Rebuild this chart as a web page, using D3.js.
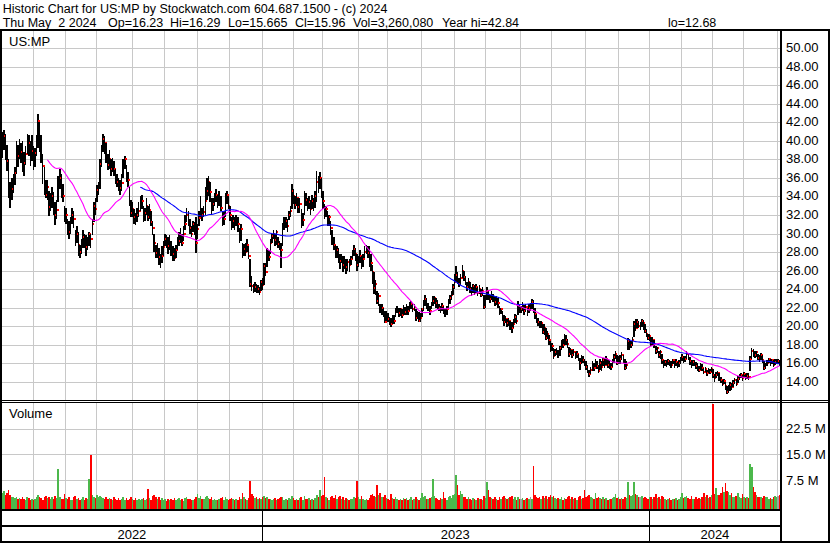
<!DOCTYPE html>
<html><head><meta charset="utf-8">
<script src="https://cdn.jsdelivr.net/npm/d3@7/dist/d3.min.js"></script>
<style>
html,body{margin:0;padding:0;background:#fff;}
svg{display:block;font-family:"Liberation Sans",Arial,sans-serif;}
text{white-space:pre;}
</style></head><body>
<svg id="chart" width="830" height="543"></svg>
<script>
// ---------------- data ----------------
const titleLine = "Historic Chart for US:MP by Stockwatch.com 604.687.1500 - (c) 2024";
const infoFields = ["Thu May  2 2024", "Op=16.23", "Hi=16.29", "Lo=15.665", "Cl=15.96", "Vol=3,260,080", "Year hi=42.84", "lo=12.68"];
const symbolLabel = "US:MP";
const volumeLabel = "Volume";
const yearLabels = ["2022", "2023", "2024"];
const yearStartIdx = [0, 168, 418];
const monthStartIdx = [20,41,61,84,105,126,147,168,188,207,230,249,271,292,312,335,355,377,398,418,439,459,479,501];
const priceTicks = [14,16,18,20,22,24,26,28,30,32,34,36,38,40,42,44,46,48,50];
const volTicks = [7.5, 15, 22.5];
const volTickLabels = ["7.5 M", "15.0 M", "22.5 M"];
const maShort = 30, maLong = 90;

const closes = [
39.6,40.5,39.3,37.8,35.0,34.2,34.8,35.3,36.5,39.0,
38.4,39.5,38.8,38.2,37.6,38.6,40.1,39.8,38.7,38.9,
37.5,38.7,39.5,42.1,40.0,38.5,37.3,35.6,34.2,35.0,
32.9,33.5,34.0,33.2,32.0,32.5,35.6,36.0,35.0,34.0,
31.5,32.0,31.0,30.2,31.2,32.0,31.6,29.5,30.0,28.8,
28.0,28.6,29.6,29.2,28.5,28.9,29.9,29.4,31.0,33.0,
32.6,34.7,35.0,37.5,39.2,40.2,39.8,38.5,37.4,38.0,
37.0,37.6,37.0,36.2,35.6,35.2,34.9,35.5,37.5,38.0,
36.2,35.8,33.5,32.2,32.6,31.8,31.3,32.0,32.4,33.1,
33.5,31.6,32.2,33.0,31.8,32.5,31.2,30.6,29.0,27.9,
28.3,27.5,27.0,27.6,28.5,29.4,29.0,28.6,29.1,28.4,
27.8,27.4,28.2,28.8,29.2,29.8,29.0,30.0,31.0,32.0,
31.4,30.6,30.0,31.0,30.2,29.0,30.5,31.7,32.5,32.0,
32.3,33.5,34.6,35.6,34.5,32.8,33.2,33.8,34.2,33.5,
33.9,32.8,31.1,31.6,33.8,34.2,33.0,32.0,30.9,31.4,
30.9,31.6,31.0,29.3,30.5,27.7,28.3,28.0,28.8,27.6,
24.5,24.3,23.8,24.2,23.9,24.0,23.7,24.8,24.4,26.5,
25.8,28.1,27.5,29.0,29.7,30.0,29.3,30.2,28.9,28.6,
28.2,30.8,31.0,31.3,30.8,32.0,32.4,34.6,34.0,33.1,
33.8,32.9,33.2,31.0,31.5,34.2,33.6,32.9,33.4,32.6,
33.5,33.0,34.0,35.6,35.0,36.0,34.5,33.5,31.9,32.6,
31.3,31.8,30.6,29.3,28.8,27.7,28.2,27.3,27.0,27.4,
26.6,27.1,26.4,26.9,26.6,27.2,27.8,28.3,27.8,26.6,
27.0,27.6,26.6,27.2,28.0,28.4,27.9,27.7,26.8,25.8,
24.1,24.6,22.7,23.2,21.6,22.0,21.5,20.5,21.2,20.8,
20.5,20.2,20.8,20.6,21.6,21.9,21.4,21.8,21.2,22.0,
21.5,22.0,21.6,22.1,22.4,21.8,22.1,20.9,21.3,20.6,
20.9,21.8,22.3,22.9,22.0,22.1,21.6,22.3,22.7,23.0,
22.5,22.2,22.0,21.7,22.2,21.6,21.4,21.8,22.6,23.0,
23.4,24.2,24.8,25.5,25.0,24.6,25.2,25.9,25.3,24.7,
24.2,24.8,24.0,23.8,24.3,23.8,24.2,23.6,24.0,23.4,
23.8,22.1,23.0,23.8,23.2,22.9,23.4,23.0,22.6,22.9,
22.5,21.4,21.8,21.0,20.5,20.8,20.3,20.6,20.0,19.8,
20.2,21.0,20.6,22.3,21.8,21.8,22.2,21.6,22.1,21.5,
22.0,22.0,22.6,21.9,21.3,20.7,20.4,20.0,20.3,19.4,
19.8,18.7,19.2,18.5,17.5,17.9,16.8,17.2,17.3,16.9,
17.6,18.2,18.0,18.8,18.5,18.1,17.0,17.4,16.9,17.2,
16.8,17.0,16.5,16.0,16.6,16.3,16.1,15.6,15.2,14.8,
15.3,15.9,15.5,16.1,15.7,15.2,16.0,15.6,16.3,15.8,
16.4,15.8,15.9,15.6,16.1,16.7,17.0,16.0,16.5,16.4,
16.9,16.2,15.5,15.8,18.4,17.8,18.0,18.5,20.2,19.8,
20.5,20.0,20.0,20.6,20.3,19.5,19.2,18.7,18.9,18.2,
18.5,17.8,17.3,17.6,16.9,17.2,16.3,15.8,16.1,15.9,
16.2,16.0,15.8,16.3,15.8,16.1,15.7,16.0,16.4,16.7,
16.3,16.5,17.0,16.6,16.2,15.8,16.1,16.0,15.7,15.6,
15.3,15.8,15.5,15.1,15.4,14.9,15.3,15.0,15.4,14.7,
14.4,14.7,14.9,14.4,14.2,13.8,14.1,13.5,12.9,13.2,
13.6,13.4,13.9,14.2,13.8,14.3,14.5,14.7,14.4,14.8,
14.4,14.6,14.5,16.5,17.3,17.0,16.9,17.2,16.6,16.5,
16.9,16.3,15.5,15.8,16.0,16.4,16.0,16.3,15.8,16.1,
16.2,16.2,15.96];

const highs = [
41.0,41.2,40.8,39.6,38.0,35.6,36.0,36.4,37.2,40.0,
39.6,40.2,39.8,40.0,38.8,39.4,40.8,40.6,40.0,40.6,
39.4,39.2,40.6,42.9,42.0,40.6,38.6,37.2,35.8,35.8,
34.6,34.4,35.0,34.5,33.4,33.6,36.2,37.0,36.4,35.4,
33.0,32.8,31.6,31.4,31.8,32.8,32.4,30.4,30.8,30.2,
28.8,29.4,30.4,30.0,29.8,29.6,30.2,30.0,31.6,33.4,
33.8,35.2,35.6,38.0,39.6,40.8,40.5,39.8,38.6,39.0,
38.0,38.2,37.8,37.0,36.4,36.0,35.8,36.4,38.0,38.4,
37.4,36.6,35.0,33.6,33.4,32.6,32.2,32.8,33.4,34.0,
34.2,33.0,32.8,33.8,33.0,33.2,32.4,31.4,30.0,28.8,
29.0,28.4,27.8,28.6,29.2,30.0,29.8,29.6,29.8,29.2,
28.6,28.4,28.8,29.6,30.2,30.6,30.0,30.8,32.0,32.8,
32.4,31.6,30.8,31.4,31.2,31.8,31.0,32.4,34.0,32.8,
33.0,35.0,36.0,36.2,35.6,33.8,33.8,34.4,34.8,34.2,
34.6,34.0,32.4,32.4,34.4,34.6,34.0,33.0,31.8,32.0,
31.8,32.0,31.8,30.6,31.0,29.0,28.9,29.0,29.4,28.6,
27.2,25.4,24.6,24.8,24.6,24.4,24.2,25.0,25.2,26.8,
26.8,28.4,28.2,29.4,30.0,30.4,30.0,30.4,29.6,29.2,
29.0,31.1,31.8,31.8,31.6,32.4,33.0,35.3,34.8,34.0,
34.4,33.8,33.8,32.6,32.2,34.6,34.4,33.8,34.0,33.6,
34.2,33.8,34.6,36.8,36.2,36.6,36.0,34.6,33.2,33.0,
32.4,32.0,31.4,30.4,29.6,28.8,28.6,28.4,27.8,27.8,
27.6,27.6,27.2,27.2,27.2,27.6,28.2,28.8,28.4,27.8,
27.6,28.2,27.6,27.8,28.6,28.8,28.6,28.6,27.8,26.6,
25.8,25.0,23.8,23.6,22.4,22.4,22.0,21.6,21.6,21.4,
21.0,20.9,21.2,21.2,22.0,22.2,22.0,22.0,21.8,22.3,
22.1,22.4,22.2,22.6,22.7,22.5,22.4,21.8,21.6,21.5,
21.4,22.0,22.8,23.4,23.0,22.5,22.2,22.6,23.2,23.3,
23.0,22.8,22.4,22.2,22.5,22.2,21.8,22.2,22.9,23.4,
23.8,24.6,25.6,26.5,25.8,25.2,25.6,26.6,26.0,25.4,
24.8,25.2,24.8,24.2,24.6,24.4,24.5,24.2,24.4,24.0,
24.2,23.4,23.4,24.2,23.8,23.4,23.8,23.5,23.2,23.3,
23.0,22.2,22.0,21.6,21.2,21.1,20.8,20.9,20.6,20.4,
20.8,21.3,21.2,22.7,22.4,22.2,22.6,22.3,22.4,22.0,
22.4,22.5,22.9,22.8,22.0,21.3,20.9,20.6,20.6,20.2,
20.2,19.8,19.5,19.0,18.4,18.2,17.6,17.5,17.6,17.4,
17.9,18.5,18.6,19.1,19.0,18.6,17.8,17.6,17.4,17.5,
17.2,17.3,17.0,16.6,16.9,16.8,16.5,16.2,15.8,15.3,
15.6,16.2,16.0,16.5,16.2,15.8,16.4,16.2,16.6,16.6,
16.8,16.5,16.3,16.0,16.4,17.0,17.3,16.9,16.8,16.9,
17.2,16.9,16.4,16.2,18.7,18.6,18.4,18.8,20.6,20.8,
20.8,20.6,20.4,20.8,20.7,20.2,19.7,19.2,19.2,18.8,
18.8,18.5,17.9,17.8,17.3,17.4,17.0,16.3,16.3,16.3,
16.4,16.3,16.2,16.5,16.2,16.4,16.1,16.3,16.7,17.0,
16.8,16.8,17.3,17.1,16.7,16.3,16.3,16.3,16.1,16.0,
15.7,16.0,15.9,15.5,15.6,15.3,15.5,15.4,15.6,15.4,
14.8,15.0,15.2,14.9,14.5,14.2,14.3,14.0,13.5,13.6,
14.0,13.9,14.2,14.4,14.3,14.6,14.8,14.9,14.7,15.0,
14.8,14.9,14.9,16.8,17.6,17.5,17.3,17.3,17.0,16.9,
17.1,16.9,16.2,16.0,16.3,16.6,16.5,16.5,16.3,16.4,
16.5,16.5,16.29];

const lows = [
38.2,39.0,37.9,36.8,33.8,32.8,33.6,34.4,35.2,36.4,
37.2,38.0,37.6,36.6,36.2,37.4,38.6,38.4,37.3,37.8,
36.9,37.2,38.4,39.2,38.8,37.6,35.4,34.2,33.8,33.6,
31.9,32.4,32.8,32.0,30.9,31.6,33.4,34.8,33.8,33.4,
31.2,31.0,29.8,29.4,30.0,31.0,30.6,28.6,29.0,27.6,
27.4,27.8,28.4,28.4,27.6,28.2,28.6,28.4,29.8,31.2,
32.0,33.4,34.2,34.8,37.2,38.8,38.6,37.6,36.9,37.0,
36.2,36.6,36.2,35.4,35.0,34.6,34.2,34.6,36.0,37.0,
35.6,35.0,33.0,31.8,31.8,31.0,30.9,31.2,31.8,32.4,
32.6,31.2,31.4,32.0,31.4,31.6,30.8,29.8,28.0,27.4,
27.4,26.6,26.3,26.8,27.6,28.6,28.4,27.8,28.2,27.6,
27.0,27.0,27.4,28.2,28.6,29.0,28.6,29.2,30.4,31.2,
30.8,30.0,29.6,30.2,29.8,27.9,29.4,30.8,31.8,31.4,
31.8,32.0,33.6,34.0,33.4,32.0,32.4,33.0,33.4,32.8,
33.0,32.4,30.8,30.9,31.8,33.2,32.6,31.4,30.4,30.6,
30.4,30.8,30.2,29.0,29.2,27.4,27.6,27.6,28.0,27.2,
24.2,23.8,23.6,23.7,23.6,23.6,23.4,23.8,23.9,24.4,
25.4,26.4,27.0,27.8,29.0,29.4,28.6,28.8,28.4,28.2,
26.3,28.6,30.4,30.6,30.2,31.5,31.8,32.6,33.2,32.6,
33.0,32.2,32.2,30.6,30.8,32.0,33.0,32.4,32.6,32.0,
32.6,32.4,32.8,33.4,34.4,34.8,33.8,32.6,31.6,31.8,
30.8,30.8,29.8,28.8,28.2,27.4,27.4,26.8,26.2,26.8,
25.8,26.2,25.6,26.0,25.8,26.6,27.2,27.6,27.0,26.0,
26.4,26.8,26.2,26.4,27.4,27.8,27.4,26.4,26.0,24.6,
23.5,23.4,22.4,22.2,21.4,21.2,21.0,20.3,20.6,20.4,
20.1,19.9,20.2,20.2,21.0,21.4,21.0,21.1,20.9,21.2,
21.2,21.2,21.2,21.6,21.8,21.5,21.6,20.6,20.8,20.4,
20.5,21.0,21.6,22.2,21.8,21.6,21.2,21.8,22.2,22.4,
22.0,21.8,21.6,21.4,21.6,21.3,21.0,21.2,22.0,22.4,
22.8,23.4,24.0,24.8,24.6,24.2,24.4,25.2,24.9,24.4,
23.8,24.1,23.6,23.3,23.6,23.4,23.6,23.3,23.5,23.1,
23.2,21.8,22.0,22.8,22.8,22.5,22.8,22.6,22.2,22.3,
22.0,21.2,21.3,20.6,20.0,20.3,19.9,20.0,19.6,19.3,
19.8,20.3,20.2,21.2,21.4,21.4,21.6,21.2,21.5,21.1,
21.4,21.6,21.8,21.4,20.8,20.3,20.0,19.8,19.8,19.1,
19.0,18.5,18.6,18.0,17.2,17.3,16.5,16.8,16.9,16.6,
16.8,17.4,17.6,18.0,18.0,17.6,16.7,16.9,16.6,16.8,
16.5,16.6,16.2,15.3,15.9,16.0,15.7,15.3,14.9,14.5,
14.8,15.2,15.2,15.6,15.4,14.9,15.3,15.2,15.7,15.5,
15.8,15.5,15.4,15.3,15.6,16.0,16.5,15.8,15.9,15.9,
16.3,16.0,15.3,15.4,17.4,17.4,17.6,17.9,18.8,19.5,
19.8,19.8,19.6,19.9,19.6,19.3,18.8,18.5,18.4,17.9,
18.0,17.6,17.0,17.1,16.6,16.4,15.9,15.5,15.7,15.6,
15.8,15.7,15.5,15.9,15.5,15.7,15.5,15.6,15.9,16.2,
16.0,16.1,16.4,16.3,15.8,15.5,15.7,15.7,15.4,15.2,
15.0,15.3,15.2,14.8,15.0,14.6,14.9,14.8,15.0,14.4,
14.0,14.4,14.6,14.1,13.9,13.5,13.7,13.1,12.68,12.8,
13.0,13.1,13.4,13.8,13.5,13.9,14.2,14.4,14.1,14.4,
14.2,14.3,14.2,15.2,16.5,16.7,16.6,16.7,16.3,16.1,
16.3,16.0,15.3,15.4,15.7,16.0,15.7,15.9,15.6,15.8,
15.9,15.9,15.665];

// daily volume, millions of shares
const volumes = [
3.6,4.2,3.0,3.8,4.5,3.2,2.6,2.4,2.2,2.5,
2.0,2.3,1.9,2.4,2.0,1.7,2.6,2.2,1.8,2.1,
1.7,2.0,2.4,3.0,2.6,2.2,1.8,2.5,2.9,2.3,
2.6,1.9,2.4,2.0,2.8,2.2,10.8,2.5,2.1,1.9,
3.4,2.2,2.0,2.5,1.8,1.7,2.4,2.8,2.0,2.2,
1.6,2.1,2.5,1.8,2.3,2.0,7.9,14.9,3.0,2.6,
2.2,3.2,2.4,2.8,2.5,2.2,2.0,2.6,1.9,2.3,
2.0,1.8,2.6,2.1,1.8,2.2,1.7,2.0,2.4,1.8,
2.2,1.6,2.0,2.5,1.9,1.6,2.2,1.8,2.1,1.7,
1.9,2.3,1.6,2.1,5.0,2.2,1.8,2.8,3.2,2.4,
2.0,2.6,1.8,2.2,1.6,1.9,1.5,2.1,1.7,2.0,
1.8,2.2,1.6,1.9,2.3,1.7,2.0,1.5,2.2,2.6,
1.9,2.1,1.6,1.8,2.0,2.4,3.3,2.2,2.8,1.9,
2.1,2.5,2.8,2.3,1.9,2.4,1.7,2.0,1.8,1.6,
1.9,2.2,2.6,1.8,2.4,2.0,1.7,2.1,2.3,1.9,
1.6,2.0,1.8,2.4,1.9,3.8,2.6,2.0,1.7,2.3,
7.2,3.4,2.8,2.2,2.5,1.9,2.3,2.0,2.6,2.8,
2.2,2.5,1.9,2.1,1.8,2.0,2.3,1.7,1.9,2.2,
2.6,2.4,1.8,2.0,1.7,2.2,1.9,2.8,2.3,1.8,
2.0,1.7,2.2,2.5,1.8,2.7,2.1,1.9,2.2,1.7,
1.9,1.6,2.3,3.0,2.4,4.5,2.8,3.2,8.5,2.6,
2.3,1.8,2.6,2.9,2.2,3.0,2.0,2.4,2.7,1.9,
2.5,1.8,2.3,2.0,1.7,2.1,1.9,2.4,2.2,7.2,
2.6,1.9,2.8,2.0,1.7,2.1,1.8,2.3,3.0,3.4,
2.9,2.5,5.9,3.2,3.8,2.6,2.4,3.0,2.2,2.0,
1.8,3.3,2.2,1.9,2.4,2.0,1.7,2.1,1.8,2.3,
1.9,2.2,1.7,2.0,2.4,1.8,2.1,2.6,2.0,1.7,
2.2,3.6,2.4,2.8,2.0,1.9,2.2,2.6,7.7,2.9,
2.3,2.0,1.8,2.2,1.9,4.0,2.3,1.8,2.4,2.7,
2.2,3.0,3.4,9.1,5.9,3.0,4.3,3.5,2.6,2.4,
2.1,2.6,2.0,1.8,2.3,1.9,1.7,2.2,1.9,2.1,
1.8,2.8,2.3,7.0,4.7,2.5,2.2,1.9,2.4,2.0,
1.8,2.6,2.1,2.4,2.9,2.2,1.9,2.3,2.6,2.8,
2.0,2.4,1.8,2.6,2.1,1.9,2.3,1.7,2.0,2.2,
1.9,2.4,2.1,11.7,3.0,2.6,2.2,2.4,2.0,2.7,
2.3,2.8,2.1,2.5,3.0,2.4,2.8,2.2,1.9,2.3,
2.0,2.6,1.8,2.3,2.0,2.5,2.9,2.1,2.4,1.9,
2.2,1.8,2.5,2.8,2.0,2.3,4.5,2.6,2.9,3.1,
2.4,2.2,2.0,3.8,2.3,2.6,2.2,1.9,2.4,2.0,
2.3,1.8,2.1,1.9,2.2,2.6,3.3,2.2,2.4,2.0,
2.3,2.0,2.6,2.2,6.8,3.2,2.8,3.0,7.0,3.4,
3.2,2.6,2.4,2.9,2.2,2.6,2.3,2.0,2.5,2.4,
2.0,2.4,3.5,2.2,2.6,1.9,2.8,2.5,2.1,1.8,
2.0,2.3,1.8,2.1,1.9,2.2,1.7,2.0,2.4,3.6,
2.2,2.5,2.8,2.3,2.0,2.7,2.1,1.9,2.4,2.0,
2.3,1.9,2.6,3.6,2.4,3.0,2.2,2.6,3.2,29.6,
3.5,5.1,3.2,3.0,3.6,5.6,4.0,6.5,4.4,4.1,
3.0,3.8,2.6,2.4,2.8,3.8,2.6,2.2,3.3,2.4,
2.2,2.6,2.2,12.2,11.4,5.6,4.1,3.0,2.4,2.6,
2.5,2.2,2.8,2.4,2.6,2.1,2.3,2.0,2.5,2.7,
2.4,2.9,3.26];

// ---------------- layout ----------------
const W = 830, H = 543;
const L = { left: 2, plotRight: 780, top: 31, priceBottom: 400, volTop: 403, volBottom: 509 };
const infoX = [2.7, 108, 170, 228, 295, 353, 442, 668];
const FONT = "'Liberation Sans', Arial, sans-serif";
const GRID = "#c8c8c8";

const svg = d3.select("#chart");
svg.append("rect").attr("width", W).attr("height", H).attr("fill", "#fff");

const n = closes.length;
const x = d3.scaleLinear().domain([0, n - 1]).range([2.5, 779.6]);
const gx = i => x(i - 0.5);
const y = d3.scaleLinear().domain([14, 50]).range([381.7, 48.3]);
const yv = d3.scaleLinear().domain([0, 22.5]).range([505.7, 428.6]);

const defs = svg.append("defs");
defs.append("clipPath").attr("id", "cp").append("rect")
  .attr("x", L.left).attr("y", L.top).attr("width", L.plotRight - L.left).attr("height", L.priceBottom - L.top);
defs.append("clipPath").attr("id", "cv").append("rect")
  .attr("x", L.left).attr("y", L.volTop).attr("width", L.plotRight - L.left).attr("height", L.volBottom - L.volTop);

// ---- grids ----
const grid = svg.append("g").attr("shape-rendering", "crispEdges").attr("stroke", GRID).attr("stroke-width", 1);
grid.selectAll(".hp").data(priceTicks).join("line")
  .attr("x1", L.left).attr("x2", L.plotRight)
  .attr("y1", d => Math.round(y(d)) + 0.5).attr("y2", d => Math.round(y(d)) + 0.5);
grid.selectAll(".hv").data(volTicks).join("line")
  .attr("x1", L.left).attr("x2", L.plotRight)
  .attr("y1", d => Math.round(yv(d)) + 0.5).attr("y2", d => Math.round(yv(d)) + 0.5);
grid.selectAll(".vp").data(monthStartIdx).join("line")
  .attr("x1", d => Math.round(gx(d)) + 0.5).attr("x2", d => Math.round(gx(d)) + 0.5)
  .attr("y1", L.top).attr("y2", L.priceBottom);
grid.selectAll(".vv").data(monthStartIdx).join("line")
  .attr("x1", d => Math.round(gx(d)) + 0.5).attr("x2", d => Math.round(gx(d)) + 0.5)
  .attr("y1", L.volTop).attr("y2", L.volBottom);

// ---- volume bars ----
const volColor = i => {
  if (i === 0) return "#4cb84c";
  const d = closes[i] - closes[i - 1];
  return d > 0 ? "#4cb84c" : (d < 0 ? "#ff0000" : "#a0a0a0");
};
svg.append("g").attr("clip-path", "url(#cv)").attr("shape-rendering", "crispEdges")
  .selectAll("rect").data(volumes).join("rect")
  .attr("x", (d, i) => x(i) - 0.78).attr("width", 1.56)
  .attr("y", d => yv(d)).attr("height", d => L.volBottom - yv(d))
  .attr("fill", (d, i) => volColor(i));

// ---- price bars (bar then close mark, per day, so the next bar overlaps) ----
const pg = svg.append("g").attr("clip-path", "url(#cp)");
const days = pg.append("g").attr("shape-rendering", "crispEdges")
  .selectAll("g").data(closes).join("g");
days.append("rect")
  .attr("x", (d, i) => x(i) - 0.75).attr("width", 1.5)
  .attr("y", (d, i) => y(highs[i])).attr("height", (d, i) => Math.max(1, y(lows[i]) - y(highs[i])))
  .attr("fill", "#000");
days.append("rect")
  .attr("x", (d, i) => x(i) + 0.3).attr("width", 1.6)
  .attr("y", d => y(d) - 1).attr("height", 2)
  .attr("fill", "#ff0000");

// ---- moving averages ----
function sma(period) {
  const out = [];
  let s = 0;
  for (let i = 0; i < n; i++) {
    s += closes[i];
    if (i >= period) s -= closes[i - period];
    if (i >= period - 1) out.push({ i, v: s / period });
  }
  return out;
}
const line = d3.line().x(d => x(d.i)).y(d => y(d.v));
pg.append("path").datum(sma(maLong)).attr("d", line).attr("fill", "none").attr("stroke", "#0000ff").attr("stroke-width", 1.1);
pg.append("path").datum(sma(maShort)).attr("d", line).attr("fill", "none").attr("stroke", "#ff00ff").attr("stroke-width", 1.1);

// ---- frame ----
const fr = svg.append("g").attr("shape-rendering", "crispEdges").attr("fill", "#000");
fr.append("rect").attr("x", 0).attr("y", 29).attr("width", W).attr("height", 2);
fr.append("rect").attr("x", 0).attr("y", 29).attr("width", 2).attr("height", H - 29);
fr.append("rect").attr("x", 780).attr("y", 29).attr("width", 2).attr("height", H - 29);
fr.append("rect").attr("x", 828).attr("y", 29).attr("width", 2).attr("height", H - 29);
fr.append("rect").attr("x", 0).attr("y", 400).attr("width", W).attr("height", 1);
fr.append("rect").attr("x", 0).attr("y", 402).attr("width", W).attr("height", 1);
fr.append("rect").attr("x", 0).attr("y", 509).attr("width", 782).attr("height", 2);
fr.append("rect").attr("x", 0).attr("y", 525).attr("width", 782).attr("height", 2);
fr.append("rect").attr("x", 0).attr("y", 541).attr("width", W).attr("height", 2);
yearStartIdx.slice(1).forEach(idx => {
  fr.append("rect").attr("x", Math.round(gx(idx))).attr("y", 511).attr("width", 1).attr("height", 30);
});

// ---- texts ----
const t = svg.append("g").attr("font-family", FONT).attr("fill", "#000");
t.append("text").attr("x", 2.7).attr("y", 12.5).attr("font-size", 12.5).text(titleLine);
t.selectAll(".info").data(infoFields).join("text")
  .attr("x", (d, i) => infoX[i]).attr("y", 26.5).attr("font-size", 12.5).text(d => d);
t.append("text").attr("x", 9).attr("y", 45.8).attr("font-size", 13).text(symbolLabel);
t.append("text").attr("x", 9).attr("y", 418).attr("font-size", 13).text(volumeLabel);

t.selectAll(".pl").data(priceTicks).join("text")
  .attr("x", 786).attr("y", d => y(d) + 4).attr("font-size", 13)
  .text(d => d.toFixed(2));
t.selectAll(".vl").data(volTicks).join("text")
  .attr("x", 786).attr("y", d => yv(d) + 4.5).attr("font-size", 13)
  .text((d, i) => volTickLabels[i]);

const yearEdges = [L.left, ...yearStartIdx.slice(1).map(gx), 781];
t.selectAll(".yl").data(yearLabels).join("text")
  .attr("x", (d, i) => (yearEdges[i] + yearEdges[i + 1]) / 2)
  .attr("y", 539).attr("font-size", 13).attr("text-anchor", "middle")
  .text(d => d);
</script>
</body></html>
